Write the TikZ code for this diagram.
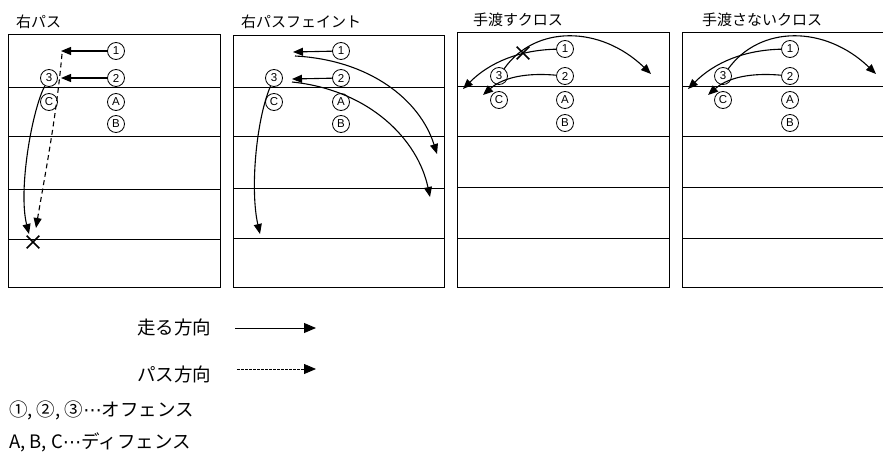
\documentclass[tikz,border=0pt]{standalone}
\usepackage{fontspec}
\setmainfont{Liberation Sans}
\newfontfamily\jp{Noto Sans CJK JP}
\newfontfamily\djv{DejaVu Sans}
\newcommand{\midell}{{\djv ⋯}}
\usetikzlibrary{arrows.meta,shapes.misc}
\tikzset{
  pl/.style={circle,draw,line width=0.8pt,inner sep=0pt,minimum size=17pt,font=\fontsize{11.5}{11.5}\selectfont},
  field/.style={line width=0.9pt},
  run/.style={-{Triangle[length=10pt,width=8pt]},line width=1.1pt},
  pass/.style={-{Triangle[length=10pt,width=8pt]},line width=1.1pt,dash pattern=on 5pt off 3.5pt},
  ttl/.style={anchor=west,font=\jp\fontsize{15}{15}\selectfont,inner sep=0pt},
  lg/.style={anchor=west,font=\jp\fontsize{18.5}{18.5}\selectfont,inner sep=0pt},
  xmark/.style={cross out,draw,line width=1.6pt,minimum size=11pt,inner sep=0pt},
}
\begin{document}
\begin{tikzpicture}[x=1pt,y=-1pt]
\useasboundingbox (0,0) rectangle (883,458);
% ---------- panel 1 ----------
\node[ttl] (t1) at (16,22) {右パス};
\draw[field] (8,34) rectangle (220,287);
\foreach \yy in {87,136,189,239} \draw[field] (8,\yy) -- (220,\yy);
\node[pl] (a1) at (116,51) {1};
\node[pl] (a2) at (116,78) {2};
\node[pl] (a3) at (49,78) {3};
\node[pl] (aC) at (49,102) {C};
\node[pl] (aA) at (116,102) {A};
\node[pl] (aB) at (116,124) {B};
\coordinate (a1e) at (61,51);
\coordinate (a2e) at (61,78);
\coordinate (aps) at (62,54);
\coordinate (ape) at (36,228);
\coordinate (are) at (29,234);
\draw[run] (a1) -- (a1e);
\draw[run] (a2) -- (a2e);
\draw[pass] (aps) .. controls (56,120) and (44,180) .. (ape);
\draw[run] (a3) .. controls (32,110) and (18,190) .. (are);
\node[xmark] (ax) at (33,242) {};
% ---------- panel 2 ----------
\node[ttl] (t2) at (241,22) {右パスフェイント};
\draw[field] (233,35) rectangle (444,287);
\foreach \yy in {87,136,188,238} \draw[field] (233,\yy) -- (444,\yy);
\node[pl] (b1) at (341,51) {1};
\node[pl] (b2) at (341,78) {2};
\node[pl] (b3) at (274,78) {3};
\node[pl] (bC) at (274,102) {C};
\node[pl] (bA) at (341,102) {A};
\node[pl] (bB) at (341,124) {B};
\coordinate (b1e) at (293,52);
\coordinate (b2e) at (292,79);
\coordinate (b1s) at (295,56);
\coordinate (b1f) at (437,154);
\coordinate (b2s) at (292,82);
\coordinate (b2f) at (430,197);
\coordinate (b3f) at (260,234);
\draw[run] (b1) -- (b1e);
\draw[run] (b2) -- (b2e);
\draw[run] (b1s) .. controls (370,60) and (420,100) .. (b1f);
\draw[run] (b2s) .. controls (370,90) and (418,140) .. (b2f);
\draw[run] (b3) .. controls (256,120) and (250,190) .. (b3f);
% ---------- panel 3 ----------
\node[ttl] (t3) at (473,20) {手渡すクロス};
\draw[field] (457,32) rectangle (669,287);
\foreach \yy in {86,136,187,238} \draw[field] (457,\yy) -- (669,\yy);
\node[pl] (c1) at (565,49) {1};
\node[pl] (c2) at (565,76) {2};
\node[pl] (c3) at (499,76) {3};
\node[pl] (cC) at (499,100) {C};
\node[pl] (cA) at (565,100) {A};
\node[pl] (cB) at (565,123) {B};
\coordinate (c3f) at (651,74);
\coordinate (c1f) at (463,89);
\coordinate (c2f) at (483,95);
\draw[run] (c3) .. controls (535,25) and (600,25) .. (c3f);
\draw[run] (c1) .. controls (520,50) and (490,62) .. (c1f);
\draw[run] (c2) .. controls (520,72) and (500,80) .. (c2f);
\node[xmark] (cx) at (523,53) {};
% ---------- panel 4 ----------
\node[ttl] (t4) at (702,20) {手渡さないクロス};
\draw[field] (883,32) -- (682,32) -- (682,287) -- (883,287);
\foreach \yy in {86,136,187,238} \draw[field] (682,\yy) -- (883,\yy);
\node[pl] (d1) at (790,49) {1};
\node[pl] (d2) at (790,76) {2};
\node[pl] (d3) at (723,76) {3};
\node[pl] (dC) at (723,100) {C};
\node[pl] (dA) at (790,100) {A};
\node[pl] (dB) at (790,123) {B};
\coordinate (d3f) at (876,74);
\coordinate (d1f) at (688,89);
\coordinate (d2f) at (708,95);
\draw[run] (d3) .. controls (760,25) and (825,25) .. (d3f);
\draw[run] (d1) .. controls (745,50) and (715,62) .. (d1f);
\draw[run] (d2) .. controls (745,72) and (725,80) .. (d2f);
% ---------- legend ----------
\node[lg] (l1) at (137,327) {走る方向};
\node[lg] (l2) at (137,374) {パス方向};
\coordinate (l1s) at (235,328);
\coordinate (l1e) at (316,328);
\coordinate (l2s) at (237,369);
\coordinate (l2e) at (316,369);
\draw[-{Triangle[length=12pt,width=10pt]},line width=0.9pt] (l1s) -- (l1e);
\draw[-{Triangle[length=12pt,width=10pt]},line width=0.8pt,dash pattern=on 2.5pt off 1.5pt] (l2s) -- (l2e);
\node[lg] (l3) at (9,410) {①, ②, ③\midell オフェンス};
\node[lg] (l4) at (9,442) {A, B, C\midell ディフェンス};
\end{tikzpicture}
\end{document}
